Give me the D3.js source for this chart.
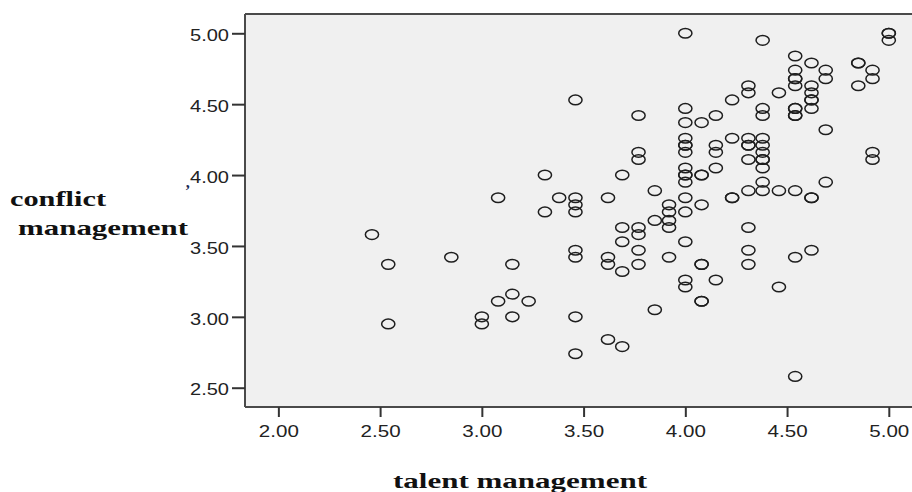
<!DOCTYPE html>
<html>
<head>
<meta charset="utf-8">
<script src="https://cdn.jsdelivr.net/npm/d3@7/dist/d3.min.js"></script>
<style>
  html, body { margin: 0; padding: 0; background: #ffffff; }
  svg { display: block; }
</style>
</head>
<body>
<svg id="chart" width="912" height="492"></svg>
<script>
// Talent management scores (x) and, for each, the conflict management scores (y) observed there
const talentLevels = [2.46, 2.54, 2.85, 3.00, 3.08, 3.15, 3.23, 3.31, 3.38, 3.46, 3.62, 3.69, 3.77, 3.85, 3.92,
  4.00, 4.08, 4.15, 4.23, 4.31, 4.38, 4.46, 4.54, 4.62, 4.69, 4.85, 4.92, 5.00];
const conflictScores = [
  [3.58],
  [3.37, 2.95],
  [3.42],
  [3.00, 2.95],
  [3.84, 3.11],
  [3.37, 3.16, 3.00],
  [3.11],
  [4.00, 3.74],
  [3.84],
  [4.53, 3.84, 3.79, 3.74, 3.47, 3.42, 3.00, 2.74],
  [3.84, 3.42, 3.37, 2.84],
  [4.00, 3.63, 3.53, 3.32, 2.79],
  [4.42, 4.16, 4.11, 3.63, 3.58, 3.47, 3.37],
  [3.89, 3.68, 3.05],
  [3.79, 3.74, 3.68, 3.63, 3.42],
  [5.00, 4.47, 4.37, 4.26, 4.21, 4.21, 4.16, 4.05, 4.00, 4.00, 3.95, 3.84, 3.74, 3.53, 3.26, 3.21],
  [4.37, 4.00, 4.00, 3.79, 3.37, 3.37, 3.11, 3.11],
  [4.42, 4.21, 4.16, 4.05, 3.26],
  [4.53, 4.26, 3.84, 3.84],
  [4.63, 4.58, 4.26, 4.21, 4.21, 4.11, 3.89, 3.63, 3.47, 3.37],
  [4.95, 4.47, 4.42, 4.26, 4.21, 4.16, 4.11, 4.11, 4.05, 3.95, 3.89],
  [4.58, 3.89, 3.21],
  [4.84, 4.74, 4.68, 4.68, 4.63, 4.47, 4.47, 4.42, 4.42, 3.89, 3.42, 2.58],
  [4.79, 4.63, 4.58, 4.53, 4.53, 4.47, 3.84, 3.84, 3.47],
  [4.74, 4.68, 4.32, 3.95],
  [4.79, 4.79, 4.63],
  [4.74, 4.68, 4.16, 4.11],
  [5.00, 5.00, 4.95]
];
const xTicks = [2.00, 2.50, 3.00, 3.50, 4.00, 4.50, 5.00];
const yTicks = [2.50, 3.00, 3.50, 4.00, 4.50, 5.00];
const xTitle = "talent management";
const yTitleLines = ["conflict", "management"];

const points = [];
talentLevels.forEach((t, i) => conflictScores[i].forEach(c => points.push({ t, c })));

const svg = d3.select("#chart");

// plot frame in pixels
const frame = { left: 245, top: 14, right: 925, bottom: 407 };

const x = d3.scaleLinear().domain([1.836, 5.114]).range([frame.left, 912]);
const y = d3.scaleLinear().domain([2.364, 5.136]).range([frame.bottom, frame.top]);

// grey plotting area
svg.append("rect")
  .attr("x", frame.left).attr("y", frame.top)
  .attr("width", frame.right - frame.left).attr("height", frame.bottom - frame.top)
  .attr("fill", "#f0f0f0");

// points
svg.append("g")
  .selectAll("ellipse")
  .data(points)
  .join("ellipse")
  .attr("cx", d => x(d.t))
  .attr("cy", d => y(d.c))
  .attr("rx", 6.6)
  .attr("ry", 4.8)
  .attr("fill", "none")
  .attr("stroke", "#1e1e1e")
  .attr("stroke-width", 1.5);

// frame lines
const frameColor = "#4a4a4a";
svg.append("line").attr("x1", frame.left).attr("x2", frame.right).attr("y1", frame.top).attr("y2", frame.top)
  .attr("stroke", frameColor).attr("stroke-width", 2);
svg.append("line").attr("x1", frame.left).attr("x2", frame.left).attr("y1", frame.top).attr("y2", frame.bottom)
  .attr("stroke", frameColor).attr("stroke-width", 2);
svg.append("line").attr("x1", frame.left).attr("x2", frame.right).attr("y1", frame.bottom).attr("y2", frame.bottom)
  .attr("stroke", frameColor).attr("stroke-width", 2);

const fmt = d3.format(".2f");
const tickFont = "'Liberation Sans', Arial, sans-serif";

// y axis
const yAxis = svg.append("g")
  .attr("transform", `translate(${frame.left},0)`)
  .call(d3.axisLeft(y).tickValues(yTicks).tickFormat(fmt).tickSize(13).tickPadding(3));
yAxis.select(".domain").remove();
yAxis.selectAll(".tick line").attr("stroke", "#333").attr("stroke-width", 2);
yAxis.selectAll(".tick text")
  .attr("font-family", tickFont).attr("font-size", 16).attr("fill", "#222")
  .attr("dy", "0.45em")
  .attr("textLength", 39).attr("lengthAdjust", "spacingAndGlyphs");

// x axis
const xAxis = svg.append("g")
  .attr("transform", `translate(0,${frame.bottom})`)
  .call(d3.axisBottom(x).tickValues(xTicks).tickFormat(fmt).tickSize(10).tickPadding(9));
xAxis.select(".domain").remove();
xAxis.selectAll(".tick line").attr("stroke", "#333").attr("stroke-width", 2);
xAxis.selectAll(".tick text")
  .attr("font-family", tickFont).attr("font-size", 16).attr("fill", "#222")
  .attr("textLength", 40).attr("lengthAdjust", "spacingAndGlyphs");

// axis titles
const titleFont = "'Liberation Serif', 'Times New Roman', serif";
svg.append("text")
  .attr("x", 10).attr("y", 206)
  .attr("font-family", titleFont).attr("font-weight", "bold").attr("font-size", 21)
  .attr("textLength", 96).attr("lengthAdjust", "spacingAndGlyphs")
  .attr("fill", "#111")
  .text(yTitleLines[0]);
svg.append("text")
  .attr("x", 18).attr("y", 235)
  .attr("font-family", titleFont).attr("font-weight", "bold").attr("font-size", 21)
  .attr("textLength", 170).attr("lengthAdjust", "spacingAndGlyphs")
  .attr("fill", "#111")
  .text(yTitleLines[1]);
svg.append("text")
  .attr("x", 185).attr("y", 196)
  .attr("font-family", titleFont).attr("font-weight", "bold").attr("font-size", 16)
  .attr("fill", "#1a2a55")
  .text("\u2019");
svg.append("text")
  .attr("x", 393).attr("y", 488)
  .attr("font-family", titleFont).attr("font-weight", "bold").attr("font-size", 20)
  .attr("textLength", 254).attr("lengthAdjust", "spacingAndGlyphs")
  .attr("fill", "#111")
  .text(xTitle);
</script>
</body>
</html>
